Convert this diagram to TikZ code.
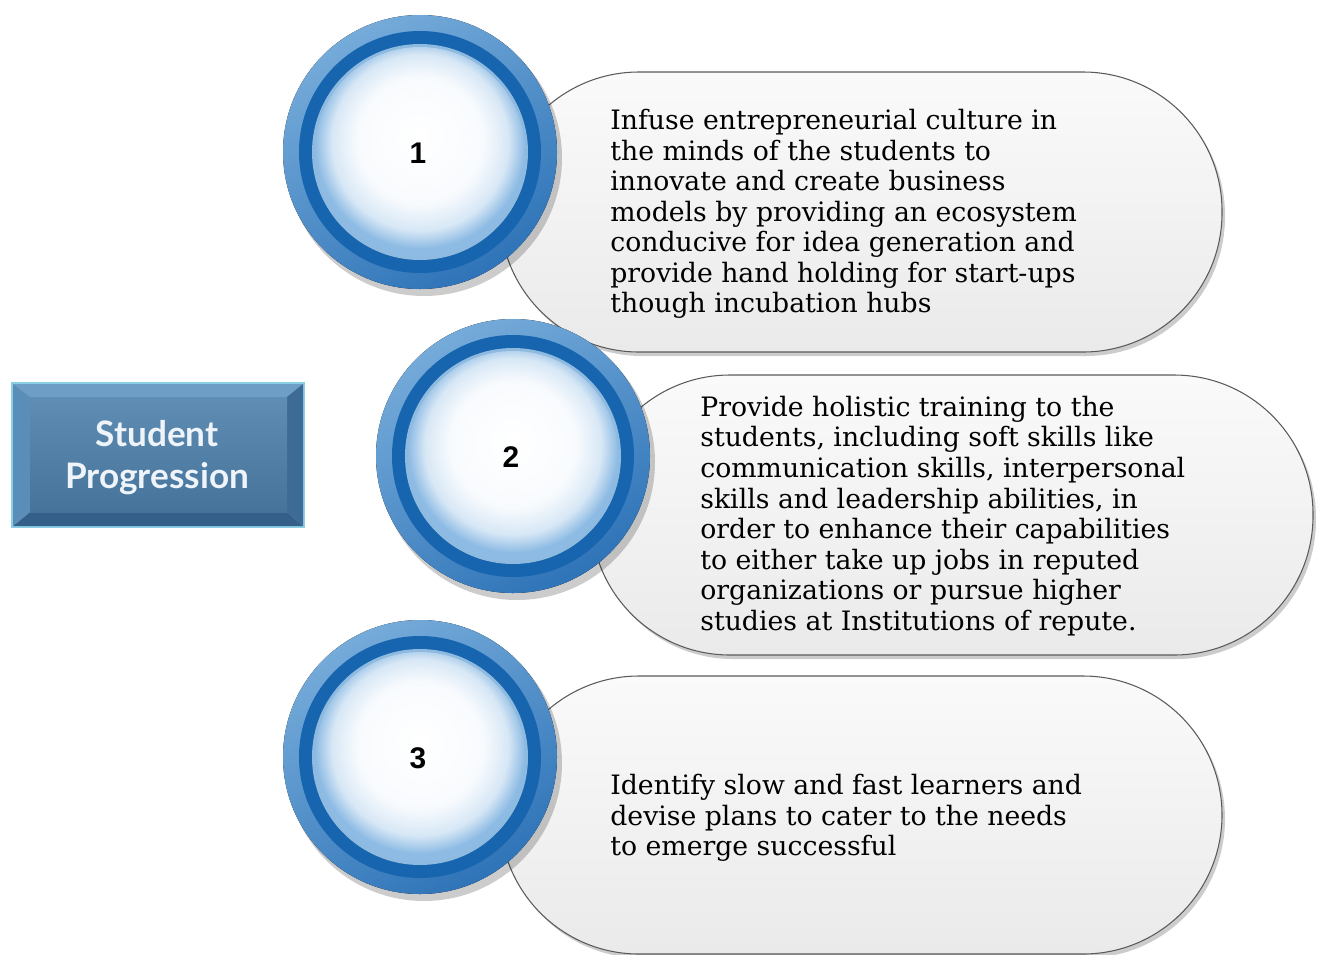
\documentclass[tikz,border=0pt]{standalone}
\usepackage{fontspec}
\setmainfont{DejaVu Serif}
\newfontfamily\numfont{Liberation Sans}
\newfontfamily\titlefont{Lato}
\usetikzlibrary{calc}

\definecolor{ringdark}{HTML}{1765AE}
\definecolor{ringlight}{HTML}{5D9CD3}
\definecolor{ringdeep}{HTML}{2F74B8}
\definecolor{discedge}{HTML}{8DBBE4}
\definecolor{pillline}{HTML}{5A5A5A}
\definecolor{pilltop}{HTML}{FAFAFA}
\definecolor{pillbot}{HTML}{EAEAEA}
\definecolor{bevtop}{HTML}{6E9DC6}
\definecolor{bevleft}{HTML}{5B8DB9}
\definecolor{bevright}{HTML}{3D6B96}
\definecolor{bevbot}{HTML}{335F89}
\definecolor{boxface}{HTML}{4D80AB}
\definecolor{boxrim}{HTML}{8ACFE6}
\definecolor{titletext}{HTML}{EEF4FA}

\pgfdeclareradialshading{bubble}{\pgfpoint{0bp}{4bp}}{color(0bp)=(white);
  color(15bp)=(white!94!discedge); color(21bp)=(white!65!discedge);
  color(25bp)=(discedge); color(50bp)=(discedge)}

\begin{document}
\begin{tikzpicture}[x=0.02cm,y=-0.02cm,
    pill/.style={draw=pillline,line width=0.6pt,top color=pilltop,bottom color=pillbot,rounded corners=2.78cm},
    pillshadow/.style={fill=black,opacity=0.2,rounded corners=2.78cm},
    pilltext/.style={anchor=west,align=left,inner sep=0pt,font=\fontsize{15.2}{17.4}\selectfont,text=black},
    numtext/.style={font=\numfont\fontsize{17}{20}\bfseries\selectfont,text=black},
    ballshadow/.style={fill=black,opacity=0.2}]

	\useasboundingbox (0,0) rectangle (1322,954);

	% pills
	\fill[pillshadow] (503,76) rectangle (1225,356);
	\draw[pill] (500,72) rectangle (1222,352);
	\fill[pillshadow] (594,379) rectangle (1316,659);
	\draw[pill] (591,375) rectangle (1313,655);
	\fill[pillshadow] (503,680) rectangle (1225,958);
	\draw[pill] (500,676) rectangle (1222,954);

	% circles
	\foreach \n/\cx/\cy in {1/420/152, 2/513/456, 3/420/757}{
		\fill[ballshadow] (\cx+4,\cy+6) circle [radius=138];
		\fill[top color=ringlight!85!white,bottom color=ringdeep,shading angle=30] (\cx,\cy) circle [radius=137];
		\fill[ringdark] (\cx,\cy) circle [radius=121];
		\fill[ringlight!70!white] (\cx,\cy) circle [radius=108];
		\shade[shading=bubble] (\cx,\cy) circle [radius=105];
		\node[numtext] (c\n) at (\cx-2,\cy+1) {\n};
	}

	% texts
	\node[pilltext] (t1) at (610,214) {Infuse entrepreneurial culture in\\the minds of the students to\\innovate and create business\\models by providing an ecosystem\\conducive for idea generation and\\provide hand holding for start-ups\\though incubation hubs};
	\node[pilltext] (t2) at (700,516) {Provide holistic training to the\\students, including soft skills like\\communication skills, interpersonal\\skills and leadership abilities, in\\order to enhance their capabilities\\to either take up jobs in reputed\\organizations or pursue higher\\studies at Institutions of repute.};
	\node[pilltext] (t3) at (610,818) {Identify slow and fast learners and\\devise plans to cater to the needs\\to emerge successful};

	% title box
	\fill[boxrim] (11,382) rectangle (305,528);
	\fill[bevtop] (13,384) -- (303,384) -- (287,397) -- (30,397) -- cycle;
	\fill[bevbot] (13,526) -- (303,526) -- (287,512) -- (30,512) -- cycle;
	\fill[bevleft] (13,384) -- (30,397) -- (30,512) -- (13,526) -- cycle;
	\fill[bevright] (303,384) -- (287,397) -- (287,512) -- (303,526) -- cycle;
	\fill[top color=boxface!90!white,bottom color=boxface!90!black] (30,397) rectangle (287,512);
	\node[align=center,text=titletext,font=\titlefont\fontsize{20}{24}\bfseries\selectfont] (sp) at (157,458) {Student\\Progression};
\end{tikzpicture}
\end{document}
